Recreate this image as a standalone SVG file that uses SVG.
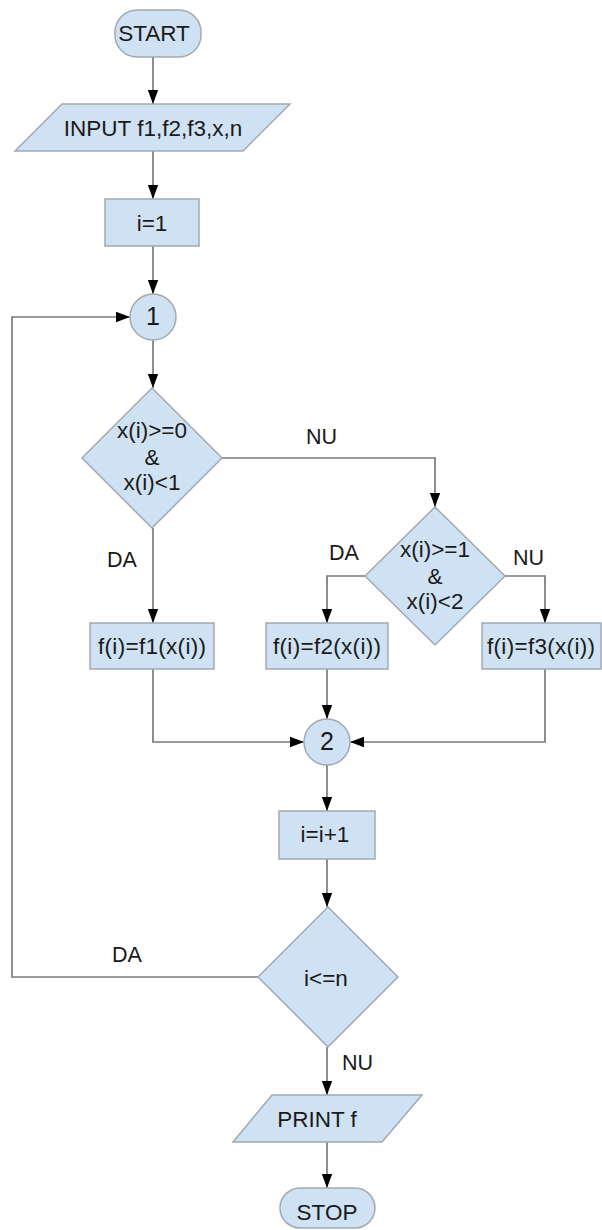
<svg xmlns="http://www.w3.org/2000/svg" width="602" height="1230" viewBox="0 0 602 1230">
  <style>
    .shape { fill: #cfe2f3; stroke: #a3a9b0; stroke-width: 1.5; }
    .edge { fill: none; stroke: #7a7a7a; stroke-width: 1.7; }
    .t { font-family: "Liberation Sans", Arial, sans-serif; font-size: 22.5px; fill: #1a1a1a; text-anchor: middle; }
    .lbl { font-family: "Liberation Sans", Arial, sans-serif; font-size: 21.5px; fill: #1a1a1a; }
  </style>
  <defs>
    <marker id="arrow" markerWidth="14" markerHeight="20" refX="19" refY="7" viewBox="0 0 19 14" orient="auto" markerUnits="userSpaceOnUse">
      <path d="M0,0 L19,7 L0,14 Z" fill="#000"/>
    </marker>
  </defs>

  <rect width="602" height="1230" fill="#fff"/>

  <!-- connectors -->
  <g id="connectors">
    <path class="edge" marker-end="url(#arrow)" d="M153,57 V104"/>
    <path class="edge" marker-end="url(#arrow)" d="M153,151 V199"/>
    <path class="edge" marker-end="url(#arrow)" d="M153,246 V294"/>
    <path class="edge" marker-end="url(#arrow)" d="M153,340 V388"/>
    <path class="edge" marker-end="url(#arrow)" d="M222,458 H435 V507"/>
    <path class="edge" marker-end="url(#arrow)" d="M153,528 V623"/>
    <path class="edge" marker-end="url(#arrow)" d="M365,576 H327 V623"/>
    <path class="edge" marker-end="url(#arrow)" d="M505,576 H545 V623"/>
    <path class="edge" marker-end="url(#arrow)" d="M153,669 V742 H304"/>
    <path class="edge" marker-end="url(#arrow)" d="M327,669 V719"/>
    <path class="edge" marker-end="url(#arrow)" d="M545,669 V742 H350"/>
    <path class="edge" marker-end="url(#arrow)" d="M327,765 V811"/>
    <path class="edge" marker-end="url(#arrow)" d="M327,859 V907"/>
    <path class="edge" marker-end="url(#arrow)" d="M258,977 H12 V317 H130"/>
    <path class="edge" marker-end="url(#arrow)" d="M327,1047 V1095"/>
    <path class="edge" marker-end="url(#arrow)" d="M327,1142 V1188"/>
    <text class="lbl" x="306" y="444">NU</text>
    <text class="lbl" x="107" y="567">DA</text>
    <text class="lbl" x="329" y="560">DA</text>
    <text class="lbl" x="513" y="565">NU</text>
    <text class="lbl" x="112" y="962">DA</text>
    <text class="lbl" x="342" y="1070">NU</text>
  </g>

  <g id="start">
    <rect class="shape" x="115" y="10" width="86" height="47" rx="22"/>
    <text class="t" x="154" y="41">START</text>
  </g>
  <g id="input">
    <polygon class="shape" points="62,104 290,104 243,151 15,151"/>
    <text class="t" x="153" y="136">INPUT f1,f2,f3,x,n</text>
  </g>
  <g id="init">
    <rect class="shape" x="105" y="199" width="94" height="47"/>
    <text class="t" x="152" y="231">i=1</text>
  </g>
  <g id="conn1">
    <circle class="shape" cx="153" cy="317" r="23"/>
    <text class="t" x="153" y="325" style="font-size:25px">1</text>
  </g>
  <g id="cond1">
    <polygon class="shape" points="152,388 222,458 152,528 82,458"/>
    <text class="t" x="152" y="438">x(i)&gt;=0</text>
    <text class="t" x="152" y="465">&amp;</text>
    <text class="t" x="152" y="490">x(i)&lt;1</text>
  </g>
  <g id="cond2">
    <polygon class="shape" points="435,507 505,576 435,645 365,576"/>
    <text class="t" x="435" y="557">x(i)&gt;=1</text>
    <text class="t" x="435" y="584">&amp;</text>
    <text class="t" x="435" y="609">x(i)&lt;2</text>
  </g>
  <g id="f1">
    <rect class="shape" x="90" y="623" width="124" height="46"/>
    <text class="t" x="152" y="654" textLength="108">f(i)=f1(x(i))</text>
  </g>
  <g id="f2">
    <rect class="shape" x="266" y="623" width="122" height="46"/>
    <text class="t" x="327" y="654" textLength="108">f(i)=f2(x(i))</text>
  </g>
  <g id="f3">
    <rect class="shape" x="482" y="623" width="119" height="46"/>
    <text class="t" x="541" y="654" textLength="108">f(i)=f3(x(i))</text>
  </g>
  <g id="conn2">
    <circle class="shape" cx="327" cy="742" r="23"/>
    <text class="t" x="327" y="750" style="font-size:25px">2</text>
  </g>
  <g id="incr">
    <rect class="shape" x="279" y="811" width="96" height="48"/>
    <text class="t" x="325" y="842">i=i+1</text>
  </g>
  <g id="cond3">
    <polygon class="shape" points="328,907 398,977 328,1047 258,977"/>
    <text class="t" x="326" y="986">i&lt;=n</text>
  </g>
  <g id="print">
    <polygon class="shape" points="272,1095 422,1095 382,1142 233,1142"/>
    <text class="t" x="317" y="1127">PRINT f</text>
  </g>
  <g id="stop">
    <rect class="shape" x="280" y="1188" width="95" height="40" rx="20"/>
    <text class="t" x="327" y="1220">STOP</text>
  </g>
</svg>
